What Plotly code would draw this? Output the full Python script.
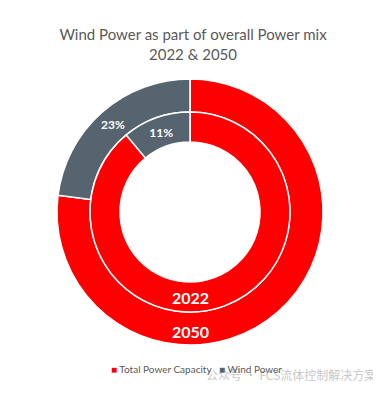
import plotly.graph_objects as go

categories = ["Total Power Capacity", "Wind Power"]
values_2050 = [77, 23]
values_2022 = [89, 11]
years = ["2050", "2022"]
colors = ["#FF0000", "#56646F"]

# page body adds an 8px margin; size the figure so it fills the window
OFF = 8
W, H = 381 - OFF, 397 - OFF
cx, cy = 190 - OFF, 212 - OFF

def px(x):
    return (x - OFF) / W

def py(y):
    return (H - (y - OFF)) / H

def dom(r):
    return dict(x=[(cx - r) / W, (cx + r) / W], y=[(H - cy - r) / H, (H - cy + r) / H])

fig = go.Figure()
fig.add_trace(go.Pie(
    labels=categories, values=values_2050, sort=False, direction="clockwise", rotation=0,
    hole=100 / 133, domain=dom(133),
    marker=dict(colors=colors, line=dict(color="white", width=1.5)),
    texttemplate=["", "<b>%{percent:.0%}</b>"], textposition="inside", insidetextorientation="horizontal",
    textfont=dict(color="white", size=12, family="Lato"), hoverinfo="label+percent",
    showlegend=False, name=years[0],
))
fig.add_trace(go.Pie(
    labels=categories, values=values_2022, sort=False, direction="clockwise", rotation=0,
    hole=70 / 100, domain=dom(100),
    marker=dict(colors=colors, line=dict(color="white", width=1.5)),
    texttemplate=["", "<b>%{percent:.0%}</b>"], textposition="inside", insidetextorientation="horizontal",
    textfont=dict(color="white", size=12, family="Lato"), hoverinfo="label+percent",
    showlegend=False, name=years[1],
))

legend_text = ("<span style='color:%s'>■</span> %s" % (colors[0], categories[0]) +
               "   " +
               "<span style='color:%s'>■</span> %s" % (colors[1], categories[1]))

annotations = [
    dict(text="<b>" + years[1] + "</b>", x=px(190), y=py(297)),
    dict(text="<b>" + years[0] + "</b>", x=px(190), y=py(331)),
    dict(text="公众号 · FCS流体控制解决方案", x=px(291), y=py(374),
         font=dict(color="#c8c8c8", size=12, family="Noto Sans CJK SC")),
    dict(text=legend_text, x=px(196), y=py(369),
         font=dict(color="#595959", size=10, family="Lato")),
]
for a in annotations:
    a.update(showarrow=False, xref="paper", yref="paper", xanchor="center", yanchor="middle")
    if "font" not in a:
        a["font"] = dict(color="white", size=16, family="Lato")

fig.update_layout(
    width=W, height=H, margin=dict(l=0, r=0, t=0, b=0),
    paper_bgcolor="white", plot_bgcolor="white", showlegend=False,
    title=dict(text="Wind Power as part of overall Power mix<br>2022 & 2050",
               x=px(193), xanchor="center", y=1 - 32 / H, yanchor="top",
               font=dict(family="Lato", size=15, color="#595959")),
    annotations=annotations,
)

fig.write_html("out.html")
